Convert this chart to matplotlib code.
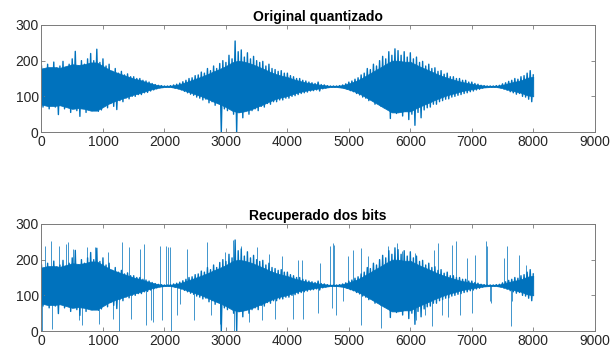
import numpy as np
import matplotlib
matplotlib.use('Agg')
import matplotlib.pyplot as plt

plt.rcParams['font.family'] = ['Liberation Sans', 'DejaVu Sans']

mid = 128

# solid core of the waveform, read every 100 samples
n_core = np.arange(0, 8001, 100)
core_hi = [178, 182, 182, 180, 185, 190, 188, 190, 195, 195,
           185, 175, 168, 162, 156, 150, 146, 140, 135, 131,
           129, 129, 132, 137, 143, 149, 155, 162, 170, 177,
           185, 195, 200, 197, 192, 185, 178, 170, 163, 158,
           154, 148, 143, 139, 136, 133, 131, 129, 129, 131,
           136, 142, 150, 160, 170, 180, 190, 200, 200, 197,
           197, 188, 180, 173, 165, 158, 152, 147, 142, 138,
           135, 132, 130, 129, 129, 132, 137, 141, 145, 152, 155]
core_lo = [77, 73, 73, 75, 70, 65, 67, 65, 60, 60,
           70, 80, 87, 93, 99, 105, 109, 115, 120, 124,
           126, 126, 123, 118, 112, 106, 100, 93, 85, 78,
           70, 60, 55, 58, 63, 70, 77, 85, 92, 97,
           101, 107, 112, 116, 119, 122, 124, 126, 126, 124,
           119, 113, 105, 95, 85, 75, 65, 55, 55, 58,
           58, 67, 75, 82, 90, 97, 103, 108, 113, 117,
           120, 123, 125, 126, 126, 123, 118, 114, 110, 103, 100]

# peaks and dips of the waveform, read every 50 samples
n_peak = np.arange(0, 8001, 50)
peak_hi = [185, 175, 190, 170, 196, 180, 185, 198, 175, 190,
           205, 226, 185, 200, 190, 205, 220, 200, 232, 195,
           205, 185, 190, 170, 178, 165, 170, 160, 163, 155,
           155, 150, 150, 145, 143, 140, 136, 133, 131, 130,
           129, 129, 130, 132, 134, 137, 141, 145, 150, 152,
           158, 160, 168, 165, 178, 172, 185, 178, 192, 200,
           195, 215, 205, 255, 225, 230, 210, 222, 205, 212,
           200, 195, 198, 185, 190, 178, 175, 170, 172, 165,
           165, 158, 155, 150, 150, 145, 143, 140, 138, 136,
           140, 133, 132, 130, 129, 129, 129, 130, 132, 135,
           140, 143, 148, 152, 160, 165, 178, 175, 190, 185,
           200, 212, 205, 225, 215, 233, 228, 215, 225, 210,
           222, 205, 210, 195, 198, 185, 190, 178, 180, 170,
           172, 162, 165, 155, 155, 150, 150, 145, 145, 140,
           140, 136, 134, 131, 130, 129, 129, 129, 130, 131,
           135, 138, 142, 145, 150, 148, 155, 158, 165, 172, 160]
peak_lo = [70, 80, 65, 85, 70, 49, 75, 65, 80, 55,
           70, 60, 44, 75, 55, 65, 60, 75, 58, 62,
           75, 68, 80, 72, 63, 88, 85, 95, 93, 100,
           100, 105, 105, 110, 111, 115, 118, 121, 124, 125,
           126, 126, 125, 123, 121, 118, 114, 110, 106, 103,
           98, 95, 90, 92, 82, 85, 75, 80, 0, 65,
           60, 70, 50, 0, 55, 40, 62, 50, 60, 65,
           60, 72, 70, 80, 78, 85, 85, 90, 90, 95,
           95, 100, 102, 105, 108, 110, 112, 115, 116, 118,
           115, 121, 123, 125, 126, 126, 126, 125, 123, 120,
           116, 113, 108, 104, 98, 95, 88, 90, 78, 82,
           72, 68, 65, 38, 60, 52, 65, 45, 58, 35,
           50, 19, 55, 40, 62, 68, 70, 78, 78, 85,
           88, 92, 93, 98, 100, 103, 105, 108, 110, 113,
           115, 118, 120, 123, 125, 126, 126, 126, 125, 124,
           120, 117, 113, 110, 106, 108, 100, 98, 92, 85, 86]

# bit error spikes in the recovered signal (sample, value)
err_pos = [53, 160, 293, 400, 425, 516, 745, 878, 1090, 1303,
           1420, 1596, 1675, 1925, 2021, 2050, 2085, 2367, 2686, 2979,
           3122, 3245, 3500, 3697, 3910, 4176, 4230, 4530, 4691, 4745,
           4760, 4986, 5068, 5204, 5310, 5630, 5777, 5860, 5990, 6074,
           6380, 6450, 6672, 6737, 6920, 7060, 7223, 7240, 7527, 7565,
           7761, 7880,
           10, 165, 612, 665, 930, 1170, 1266, 1463, 1702, 1782,
           1808, 1968, 2100, 2207, 2260, 2473, 2750, 2899, 3139, 3378,
           3590, 3803, 4096, 4255, 4501, 4720, 4790, 4910, 5204, 5530,
           6100, 6240, 6340, 6350, 6520, 6620, 6800, 7000, 7300, 7320,
           7636, 7655]
err_val = [238, 252, 238, 243, 248, 229, 234, 234, 220, 248,
           234, 229, 243, 238, 238, 234, 234, 229, 248, 220,
           255, 238, 234, 215, 210, 200, 200, 190, 237, 247,
           240, 209, 228, 233, 210, 237, 247, 225, 222, 219,
           226, 247, 242, 251, 205, 212, 251, 237, 205, 237,
           214, 186,
           0, 5, 30, 16, 21, 35, 0, 35, 16, 30,
           26, 30, 0, 44, 77, 30, 44, 20, 0, 25,
           30, 35, 35, 35, 50, 64, 46, 83, 18, 8,
           30, 44, 86, 13, 44, 40, 44, 50, 85, 80,
           13, 85]

blue = '#0072BD'

# waveform line: alternate each peak with the following dip
wave_x = np.empty(2 * len(n_peak))
wave_x[0::2] = n_peak
wave_x[1::2] = n_peak + 25
wave_y = np.empty(2 * len(n_peak))
wave_y[0::2] = peak_hi
wave_y[1::2] = peak_lo
wave_x = wave_x[:-1]
wave_y = wave_y[:-1]

fig = plt.figure(figsize=(6.1, 3.56), dpi=100)
ax1 = fig.add_axes([0.068, 0.629, 0.907, 0.301])
ax2 = fig.add_axes([0.068, 0.070, 0.907, 0.301])

for ax, title in [(ax1, 'Original quantizado'), (ax2, 'Recuperado dos bits')]:
    ax.plot(wave_x, wave_y, color=blue, lw=1.0)
    ax.fill_between(n_core, core_lo, core_hi, color=blue, lw=0.5)
    ax.set_xlim(0, 9000)
    ax.set_ylim(0, 300)
    ax.set_xticks(np.arange(0, 9001, 1000))
    ax.set_yticks([0, 100, 200, 300])
    ax.tick_params(direction='in', top=True, right=True, length=3,
                   width=0.6, color='#7a7a7a', labelsize=10,
                   labelcolor='#262626', pad=2)
    for s in ax.spines.values():
        s.set_color('#7a7a7a')
        s.set_linewidth(0.7)
    ax.set_title(title, fontsize=10, fontweight='bold', pad=3)

ax2.vlines(err_pos, mid, err_val, color=blue, lw=0.7, alpha=0.75)

fig.savefig('out.png', dpi=100)
